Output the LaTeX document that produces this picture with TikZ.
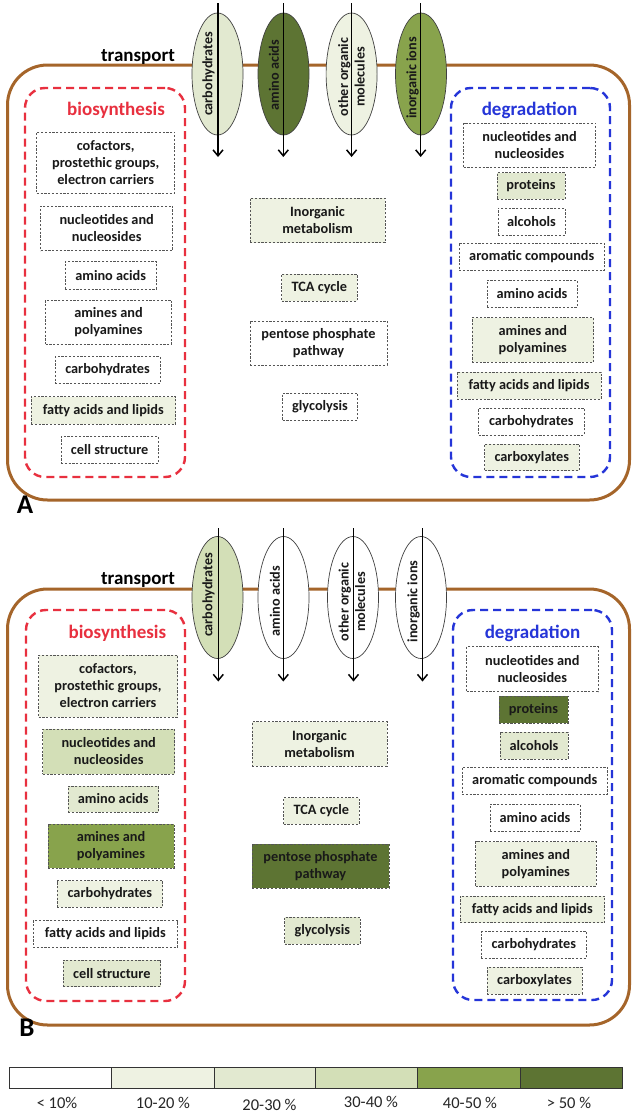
\documentclass[tikz,border=0pt]{standalone}
\usepackage{fontspec}
\setmainfont{Carlito}
\usetikzlibrary{shapes.geometric,arrows.meta}
\definecolor{cA}{HTML}{EEF2E2}
\definecolor{cB}{HTML}{E2E9D0}
\definecolor{cC}{HTML}{D3DFB7}
\definecolor{cD}{HTML}{88A34C}
\definecolor{cE}{HTML}{5D7433}
\definecolor{brownline}{HTML}{A5652A}
\definecolor{redline}{HTML}{E8303F}
\definecolor{blueline}{HTML}{2535D8}
\definecolor{boxline}{HTML}{555555}
\tikzset{
  bx/.style={draw=boxline, dash pattern=on 2.2pt off 1.6pt, line width=0.8pt, align=center, inner sep=0pt, font=\bfseries\fontsize{14.3}{17}\selectfont, fill=white, text=black!90},
  cellbox/.style={draw=brownline, line width=3pt, rounded corners=40pt, inner sep=0pt},
  biobox/.style={draw=redline, line width=2.4pt, dash pattern=on 8pt off 5pt, rounded corners=20pt, inner sep=0pt},
  degbox/.style={draw=blueline, line width=2.4pt, dash pattern=on 8pt off 5pt, rounded corners=20pt, inner sep=0pt},
  tr/.style={ellipse, draw=black!75, line width=0.7pt, minimum width=51pt, minimum height=122pt, inner sep=0pt},
  trtext/.style={rotate=90, align=center, inner sep=0pt, font=\bfseries\fontsize{14.2}{16.5}\selectfont, text=black!90},
  flow/.style={line width=1.3pt, -{Straight Barb[length=6pt,width=10pt,line width=1.5pt]}},
  ttl/.style={inner sep=0pt, font=\bfseries\fontsize{19}{22}\selectfont},
  plabel/.style={inner sep=0pt, font=\bfseries\fontsize{27}{30}\selectfont},
  legcell/.style={draw=black!80, line width=0.8pt, minimum height=21pt, inner sep=0pt},
  leglab/.style={inner sep=0pt, font=\fontsize{16.5}{18}\selectfont, text=black!85}
}
\begin{document}
\begin{tikzpicture}[x=1pt,y=-1pt]
\useasboundingbox[fill=white] (0,0) rectangle (636,1114);

% ================= PANEL A =================
\node[cellbox, minimum width=622pt, minimum height=435pt] (cellA) at (318.5,282.5) {};
\node[ttl] (trA) at (138,57) {transport};
% ellipses
\node[tr, fill=cB] (eA1) at (217.5,74) {};
\node[tr, fill=cE] (eA2) at (283.5,74) {};
\node[tr, fill=cA] (eA3) at (351.6,74) {};
\node[tr, fill=cD] (eA4) at (421,74) {};
\node[trtext] (tA1) at (208.5,74) {carbohydrates};
\node[trtext] (tA2) at (274,75) {amino acids};
\node[trtext] (tA3) at (351.5,77) {other organic\\molecules};
\node[trtext] (tA4) at (412.5,78) {inorganic ions};
\coordinate (sA1) at (218,3);   \coordinate (fA1) at (218,157);
\coordinate (sA2) at (283.3,3); \coordinate (fA2) at (283.3,157);
\coordinate (sA3) at (351.6,3); \coordinate (fA3) at (351.6,157);
\coordinate (sA4) at (420.7,3); \coordinate (fA4) at (420.7,157);
\draw[flow] (sA1) -- (fA1);
\draw[flow] (sA2) -- (fA2);
\draw[flow] (sA3) -- (fA3);
\draw[flow] (sA4) -- (fA4);

% biosynthesis A
\node[biobox, minimum width=160pt, minimum height=389pt] (bioA) at (105,282.5) {};
\node[ttl, text=redline] (bioAt) at (116,110) {biosynthesis};
\node[bx, minimum width=138pt, minimum height=61pt] (lA1) at (105.7,162.5) {cofactors,\\prostethic groups,\\electron carriers};
\node[bx, minimum width=132pt, minimum height=44.7pt] (lA2) at (106.7,228.3) {nucleotides and\\nucleosides};
\node[bx, minimum width=91.5pt, minimum height=27.3pt] (lA3) at (110.7,275.3) {amino acids};
\node[bx, minimum width=126pt, minimum height=44pt] (lA4) at (108.5,322) {amines and\\polyamines};
\node[bx, minimum width=105pt, minimum height=26.5pt] (lA5) at (107.5,370) {carbohydrates};
\node[bx, fill=cA, minimum width=144.6pt, minimum height=27.3pt] (lA6) at (103.3,410.3) {fatty acids and lipids};
\node[bx, minimum width=97.5pt, minimum height=26.5pt] (lA7) at (109.7,450) {cell structure};

% centre A
\node[bx, fill=cA, minimum width=135pt, minimum height=44.7pt] (cA1) at (317.5,220.3) {Inorganic\\metabolism};
\node[bx, fill=cA, minimum width=75.3pt, minimum height=27pt] (cA2) at (319.3,287.5) {TCA cycle};
\node[bx, minimum width=137pt, minimum height=44pt] (cA3) at (318.5,343) {pentose phosphate\\pathway};
\node[bx, minimum width=75pt, minimum height=27pt] (cA4) at (320,406.5) {glycolysis};

% degradation A
\node[degbox, minimum width=159pt, minimum height=389pt] (degA) at (530.5,282.5) {};
\node[ttl, text=blueline] (degAt) at (529.5,110) {degradation};
\node[bx, minimum width=132pt, minimum height=44pt] (rA1) at (529.5,145) {nucleotides and\\nucleosides};
\node[bx, fill=cB, minimum width=68pt, minimum height=26.5pt] (rA2) at (531,186) {proteins};
\node[bx, minimum width=67pt, minimum height=27pt] (rA3) at (531.5,221.5) {alcohols};
\node[bx, minimum width=145.5pt, minimum height=27pt] (rA4) at (531.8,256.5) {aromatic compounds};
\node[bx, minimum width=90pt, minimum height=27pt] (rA5) at (532,293.5) {amino acids};
\node[bx, fill=cA, minimum width=121.5pt, minimum height=44.3pt] (rA6) at (532.8,340) {amines and\\polyamines};
\node[bx, fill=cA, minimum width=144pt, minimum height=27pt] (rA7) at (529,385.5) {fatty acids and lipids};
\node[bx, minimum width=105.5pt, minimum height=27pt] (rA8) at (531.3,421.5) {carbohydrates};
\node[bx, fill=cA, minimum width=94.5pt, minimum height=26.7pt] (rA9) at (531.8,457.3) {carboxylates};

\node[plabel] (labA) at (25,505) {A};

% ================= PANEL B =================
\node[cellbox, minimum width=622pt, minimum height=436pt] (cellB) at (318.5,807) {};
\node[ttl] (trB) at (138,580) {transport};
\node[tr, fill=cC] (eB1) at (217.5,597.5) {};
\node[tr, fill=white] (eB2) at (283.5,597.5) {};
\node[tr, fill=white] (eB3) at (353,597.5) {};
\node[tr, fill=white] (eB4) at (421,597.5) {};
\node[trtext] (tB1) at (208.5,595) {carbohydrates};
\node[trtext] (tB2) at (275,601) {amino acids};
\node[trtext] (tB3) at (352,602) {other organic\\molecules};
\node[trtext] (tB4) at (413.5,601.5) {inorganic ions};
\coordinate (sB1) at (218.3,528); \coordinate (fB1) at (218.3,681.5);
\coordinate (sB2) at (283.3,528); \coordinate (fB2) at (283.3,681.5);
\coordinate (sB3) at (353.5,528); \coordinate (fB3) at (353.5,681.5);
\coordinate (sB4) at (422.5,528); \coordinate (fB4) at (422.5,681.5);
\draw[flow] (sB1) -- (fB1);
\draw[flow] (sB2) -- (fB2);
\draw[flow] (sB3) -- (fB3);
\draw[flow] (sB4) -- (fB4);

% biosynthesis B
\node[biobox, minimum width=159pt, minimum height=391pt] (bioB) at (105.5,805.5) {};
\node[ttl, text=redline] (bioBt) at (117.4,633) {biosynthesis};
\node[bx, fill=cA, minimum width=139pt, minimum height=62pt] (lB1) at (108,686) {cofactors,\\prostethic groups,\\electron carriers};
\node[bx, fill=cC, minimum width=132pt, minimum height=45pt] (lB2) at (108.7,751.5) {nucleotides and\\nucleosides};
\node[bx, fill=cB, minimum width=90.5pt, minimum height=26pt] (lB3) at (113.3,799) {amino acids};
\node[bx, fill=cD, minimum width=126pt, minimum height=44pt] (lB4) at (111,846) {amines and\\polyamines};
\node[bx, fill=cA, minimum width=105.6pt, minimum height=26.5pt] (lB5) at (109.8,894) {carbohydrates};
\node[bx, minimum width=144.6pt, minimum height=26.5pt] (lB6) at (105.3,934) {fatty acids and lipids};
\node[bx, fill=cB, minimum width=97.6pt, minimum height=26.7pt] (lB7) at (111.8,973.3) {cell structure};

% centre B
\node[bx, fill=cA, minimum width=135pt, minimum height=44.3pt] (cB1) at (319.5,744) {Inorganic\\metabolism};
\node[bx, fill=cA, minimum width=75.3pt, minimum height=26.5pt] (cB2) at (321.3,811) {TCA cycle};
\node[bx, fill=cE, minimum width=137pt, minimum height=44pt] (cB3) at (320.5,866) {pentose phosphate\\pathway};
\node[bx, fill=cB, minimum width=75.5pt, minimum height=27pt] (cB4) at (322.3,930.5) {glycolysis};

% degradation B
\node[degbox, minimum width=159pt, minimum height=390pt] (degB) at (532.5,805) {};
\node[ttl, text=blueline] (degBt) at (532.5,633) {degradation};
\node[bx, minimum width=131.3pt, minimum height=45pt] (rB1) at (532.3,669.2) {nucleotides and\\nucleosides};
\node[bx, fill=cE, minimum width=69pt, minimum height=27pt] (rB2) at (533.5,709.5) {proteins};
\node[bx, fill=cB, minimum width=68pt, minimum height=27pt] (rB3) at (534,745.5) {alcohols};
\node[bx, minimum width=145.7pt, minimum height=27pt] (rB4) at (534.8,780.5) {aromatic compounds};
\node[bx, minimum width=90pt, minimum height=27pt] (rB5) at (535,817.5) {amino acids};
\node[bx, fill=cA, minimum width=120.4pt, minimum height=44.3pt] (rB6) at (535.8,863.8) {amines and\\polyamines};
\node[bx, fill=cA, minimum width=144.5pt, minimum height=26.7pt] (rB7) at (532.3,909.3) {fatty acids and lipids};
\node[bx, minimum width=105.6pt, minimum height=26.3pt] (rB8) at (533.8,944.8) {carbohydrates};
\node[bx, fill=cA, minimum width=95pt, minimum height=27pt] (rB9) at (534.5,980.5) {carboxylates};

\node[plabel] (labB) at (27,1028) {B};

% ================= LEGEND =================
\node[legcell, fill=white, minimum width=102.8pt] (g1) at (60.4,1077.5) {};
\node[legcell, fill=cA, minimum width=102.2pt] (g2) at (162.9,1077.5) {};
\node[legcell, fill=cB, minimum width=101pt] (g3) at (264.5,1077.5) {};
\node[legcell, fill=cC, minimum width=102.5pt] (g4) at (366.25,1077.5) {};
\node[legcell, fill=cD, minimum width=102.5pt] (g5) at (468.75,1077.5) {};
\node[legcell, fill=cE, minimum width=102pt] (g6) at (571,1077.5) {};
\node[leglab] (gl1) at (57,1102.5) {< 10\%};
\node[leglab] (gl2) at (163,1103) {10-20 \%};
\node[leglab] (gl3) at (269.5,1105) {20-30 \%};
\node[leglab] (gl4) at (371,1101.5) {30-40 \%};
\node[leglab] (gl5) at (470,1103) {40-50 \%};
\node[leglab] (gl6) at (569,1103) {> 50 \%};
\end{tikzpicture}
\end{document}
